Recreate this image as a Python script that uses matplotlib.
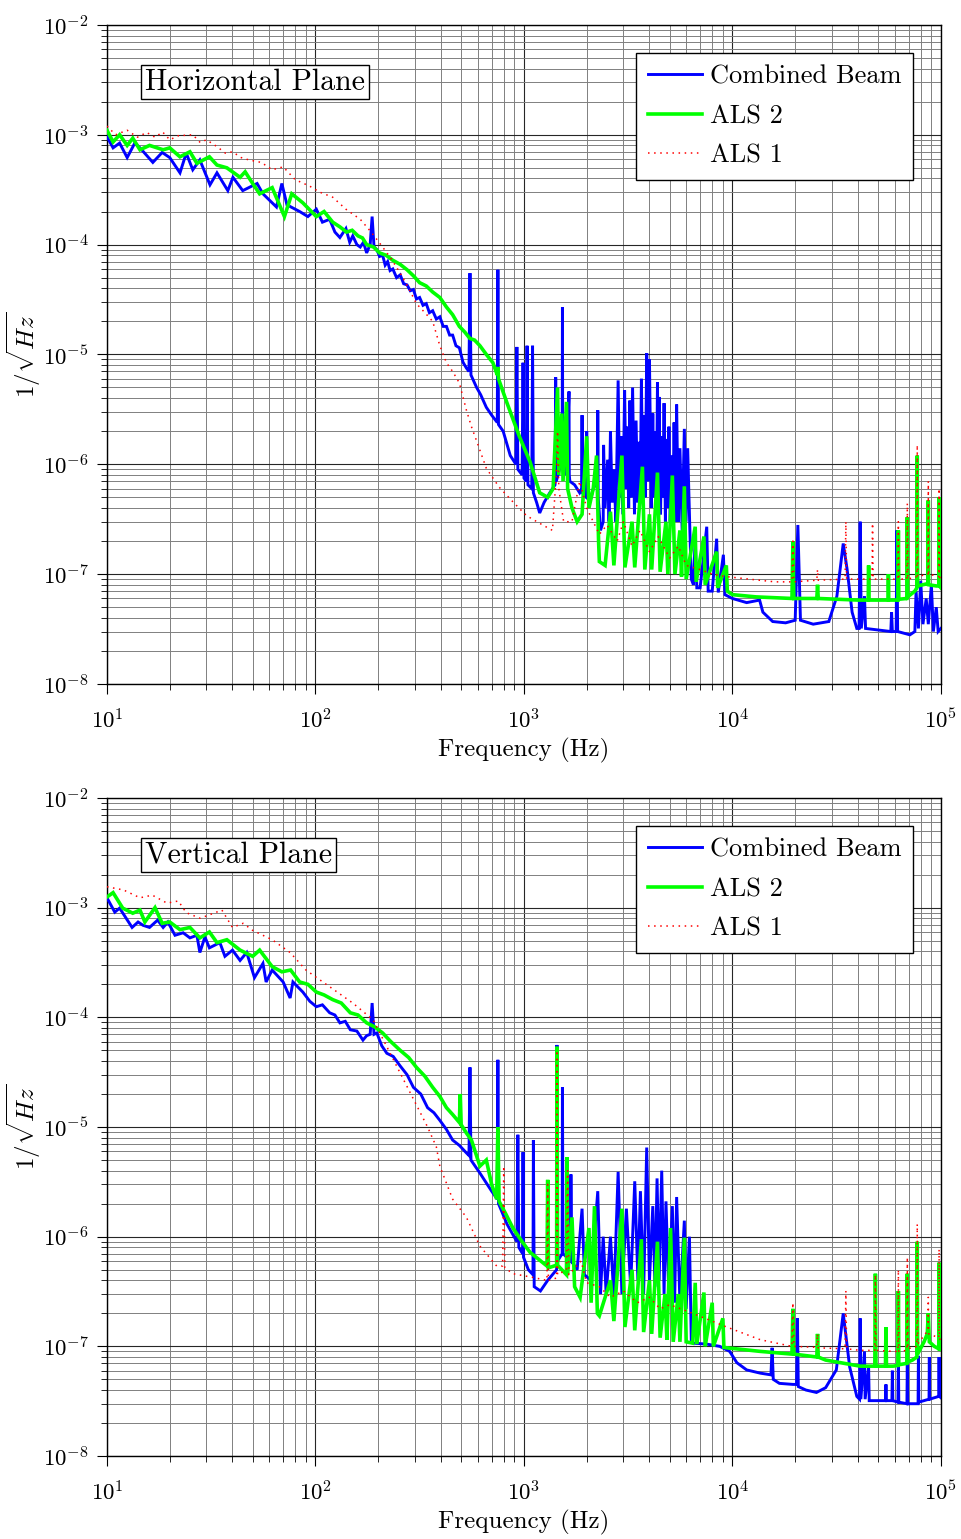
import numpy as np
import matplotlib
matplotlib.use("Agg")
import matplotlib.pyplot as plt
from matplotlib.ticker import LogLocator, NullFormatter, FixedLocator

# ---------------- data ----------------
# Horizontal plane: Combined Beam
h_blue_f = [10, 10.7, 11.5, 12.5, 13.6, 14.4, 16.6, 18.4, 20, 22.4, 24, 25.8, 27.9, 31.2, 33.7, 38, 40.2, 44.8, 52.5, 56, 65, 69, 73, 84, 92, 101, 108, 117, 124, 131, 140, 146, 151, 158, 164, 170, 176, 183, 187, 191, 197, 203, 210, 216, 222, 228, 235, 245, 255, 265, 275, 285, 295, 305, 316, 328, 340, 352, 365, 380, 395, 410, 425, 440, 455, 472, 490, 510, 530, 545, 551, 557, 593, 620, 660, 700, 745, 750, 755, 795, 860, 915, 925, 935, 980, 990, 1000, 1025, 1035, 1045, 1090, 1100, 1110, 1150, 1190, 1250, 1330, 1410, 1420, 1430, 1480, 1525, 1530, 1535, 1600, 1645, 1650, 1660, 1750, 1850, 1895, 1900, 1905, 1995, 2000, 2010, 2100, 2150, 2255, 2260, 2270, 2330, 2400, 2410, 2450, 2520, 2560, 2600, 2650, 2700, 2760, 2830, 2880, 2920, 2980, 3040, 3090, 3130, 3180, 3220, 3270, 3320, 3390, 3450, 3510, 3560, 3610, 3660, 3710, 3760, 3820, 3880, 3940, 4000, 4080, 4150, 4210, 4260, 4320, 4370, 4410, 4450, 4520, 4580, 4640, 4700, 4770, 4830, 4900, 4960, 5030, 5100, 5180, 5250, 5330, 5400, 5500, 5600, 5740, 5880, 5990, 6100, 6250, 6350, 6500, 6630, 6750, 7000, 7530, 7650, 8000, 8400, 8550, 9050, 9200, 10000, 11700, 13500, 14000, 15600, 18000, 20000, 20600, 21200, 24400, 29000, 31700, 34000, 35500, 37500, 39500, 40500, 41000, 41500, 43000, 43500, 50000, 57500, 58000, 58500, 61000, 61500, 62000, 71000, 75000, 76000, 78000, 80000, 82000, 85000, 87000, 90000, 92000, 95000, 97000, 100000]
h_blue_v = [9.6e-4, 7.6e-4, 8.4e-4, 6.2e-4, 8.4e-4, 7.6e-4, 5.6e-4, 6.9e-4, 6.2e-4, 4.5e-4, 6.8e-4, 4.8e-4, 5.9e-4, 3.5e-4, 4.5e-4, 3.1e-4, 4.1e-4, 3.1e-4, 3.6e-4, 2.9e-4, 2.2e-4, 3.6e-4, 2.3e-4, 2.0e-4, 1.8e-4, 2.1e-4, 1.6e-4, 1.7e-4, 1.3e-4, 1.16e-4, 1.4e-4, 1.05e-4, 1.2e-4, 1.0e-4, 9.5e-5, 1.05e-4, 8.4e-5, 1.0e-4, 1.8e-4, 9.5e-5, 9.0e-5, 7.8e-5, 8.0e-5, 6.5e-5, 7.0e-5, 5.8e-5, 6.0e-5, 5.0e-5, 5.3e-5, 4.4e-5, 4.3e-5, 3.8e-5, 3.9e-5, 3.2e-5, 3.3e-5, 2.8e-5, 2.9e-5, 2.4e-5, 2.5e-5, 2.1e-5, 2.2e-5, 1.8e-5, 1.8e-5, 1.5e-5, 1.5e-5, 1.2e-5, 1.15e-5, 8.5e-6, 7.5e-6, 7.0e-6, 5.5e-5, 6.5e-6, 5.0e-6, 4.3e-6, 3.3e-6, 2.8e-6, 2.4e-6, 5.9e-5, 2.3e-6, 2.0e-6, 1.2e-6, 1.0e-6, 1.17e-5, 9.0e-7, 8.0e-7, 8.4e-6, 7.5e-7, 7.0e-7, 1.2e-5, 6.5e-7, 6.0e-7, 1.2e-5, 5.5e-7, 4.5e-7, 3.6e-7, 4.5e-7, 5.5e-7, 6.5e-7, 6.2e-6, 7.0e-7, 9.0e-7, 1.0e-6, 2.7e-5, 1.0e-6, 8.0e-7, 4.6e-6, 8.0e-7, 7.0e-7, 6.5e-7, 5.5e-7, 6.0e-7, 2.8e-6, 5.5e-7, 5.0e-7, 2.0e-6, 5.0e-7, 5.0e-7, 6.0e-7, 7.0e-7, 3.1e-6, 5.0e-7, 2.5e-7, 3.0e-7, 1.5e-6, 4.0e-7, 1.1e-6, 3.0e-7, 2.0e-6, 4.5e-7, 9.0e-7, 3.0e-7, 5.8e-6, 5.0e-7, 1.8e-6, 3.5e-7, 4.7e-6, 6.0e-7, 2.2e-6, 4.0e-7, 3.8e-6, 5.0e-7, 5.0e-6, 3.5e-7, 2.5e-6, 4.5e-7, 1.6e-6, 5.0e-7, 6.0e-6, 6.0e-7, 2.8e-6, 5.0e-7, 1.03e-5, 7.0e-7, 9.0e-6, 4.0e-7, 2.9e-6, 5.0e-7, 2.0e-6, 4.0e-7, 5.6e-6, 6.0e-7, 4.1e-6, 3.5e-7, 1.8e-6, 5.0e-7, 3.6e-6, 3.0e-7, 1.7e-6, 4.0e-7, 2.2e-6, 3.0e-7, 1.2e-6, 3.5e-7, 2.4e-6, 3.0e-7, 3.5e-6, 3.0e-7, 1.4e-6, 2.5e-7, 2.1e-6, 3.0e-7, 1.4e-6, 2.5e-7, 9.0e-8, 8.0e-8, 2.1e-7, 7.5e-8, 7.5e-8, 2.7e-7, 7.0e-8, 7.0e-8, 2.1e-7, 6.8e-8, 1.5e-7, 6.5e-8, 6.0e-8, 5.5e-8, 5.8e-8, 4.5e-8, 3.7e-8, 3.6e-8, 3.8e-8, 2.8e-7, 3.8e-8, 3.5e-8, 3.7e-8, 6.3e-8, 1.9e-7, 1.1e-7, 4.5e-8, 3.2e-8, 3.2e-8, 3.0e-7, 3.2e-8, 6.3e-8, 3.2e-8, 3.1e-8, 3.0e-8, 4.5e-8, 3.0e-8, 3.0e-8, 2.5e-7, 3.0e-8, 2.8e-8, 3.0e-8, 7.0e-8, 3.2e-8, 8.7e-8, 3.5e-8, 6.0e-8, 3.5e-8, 8.0e-8, 3.0e-8, 5.0e-8, 3.0e-8, 3.2e-8]

# Horizontal plane: ALS 2
h_green_f = [10, 10.7, 11.5, 12.5, 13.3, 14.4, 16, 18.6, 20, 22.4, 25, 27, 31, 33.7, 37.6, 43.5, 46, 50, 54, 62, 71, 77, 87, 101, 110, 121, 131, 141, 150, 160, 168, 176, 190, 203, 218, 235, 255, 275, 295, 316, 340, 365, 395, 425, 455, 490, 520, 550, 580, 615, 660, 710, 745, 750, 755, 830, 950, 1070, 1190, 1300, 1380, 1450, 1470, 1520, 1540, 1600, 1620, 1700, 1800, 1900, 2000, 2050, 2150, 2230, 2280, 2300, 2450, 2600, 2700, 2950, 3050, 3300, 3400, 3700, 3800, 4000, 4100, 4370, 4500, 4800, 4900, 5150, 5300, 5600, 5700, 5880, 6000, 6630, 6700, 7300, 7400, 8400, 8500, 9350, 9450, 10000, 13000, 19300, 19500, 19700, 25400, 25600, 25800, 40000, 44800, 45000, 45200, 55800, 56000, 56200, 62200, 62500, 62800, 68700, 69000, 69300, 75000, 76700, 77000, 77300, 86700, 87000, 87300, 95000, 97700, 98000, 98300, 100000]
h_green_v = [1.1e-3, 8.6e-4, 1.0e-3, 8.0e-4, 9.3e-4, 7.3e-4, 8.0e-4, 7.3e-4, 7.6e-4, 6.3e-4, 7.0e-4, 5.5e-4, 6.3e-4, 5.3e-4, 5.0e-4, 4.1e-4, 4.6e-4, 3.6e-4, 2.9e-4, 3.3e-4, 1.8e-4, 2.9e-4, 2.4e-4, 1.8e-4, 2.0e-4, 1.6e-4, 1.45e-4, 1.3e-4, 1.35e-4, 1.2e-4, 1.15e-4, 1.0e-4, 9.5e-5, 8.4e-5, 8.0e-5, 7.2e-5, 6.6e-5, 5.9e-5, 5.2e-5, 4.5e-5, 4.2e-5, 3.7e-5, 3.3e-5, 2.7e-5, 2.3e-5, 1.8e-5, 1.6e-5, 1.4e-5, 1.35e-5, 1.2e-5, 1.0e-5, 8.4e-6, 6.5e-6, 7.7e-6, 6.0e-6, 3.6e-6, 1.8e-6, 1.05e-6, 5.5e-7, 5.0e-7, 6.0e-7, 5.0e-6, 8.0e-7, 2.9e-6, 7.0e-7, 3.7e-6, 6.0e-7, 4.0e-7, 3.0e-7, 3.5e-7, 1.8e-6, 4.0e-7, 6.0e-7, 1.2e-6, 2.0e-7, 1.3e-7, 1.2e-7, 3.7e-7, 1.2e-7, 1.2e-6, 1.15e-7, 3.0e-7, 1.15e-7, 9.5e-7, 1.1e-7, 3.5e-7, 1.1e-7, 8.4e-7, 1.05e-7, 3.0e-7, 1.0e-7, 7.9e-7, 1.0e-7, 2.5e-7, 9.5e-8, 6.3e-7, 9.0e-8, 2.7e-7, 8.5e-8, 2.2e-7, 8.0e-8, 1.6e-7, 7.5e-8, 1.2e-7, 7.0e-8, 6.5e-8, 6.2e-8, 6.0e-8, 2.0e-7, 6.0e-8, 6.0e-8, 8.0e-8, 6.0e-8, 5.8e-8, 5.8e-8, 1.2e-7, 5.8e-8, 5.8e-8, 1.0e-7, 5.8e-8, 5.8e-8, 2.5e-7, 5.9e-8, 6.0e-8, 3.3e-7, 6.2e-8, 7.0e-8, 7.5e-8, 1.2e-6, 7.8e-8, 8.2e-8, 4.7e-7, 8.0e-8, 7.8e-8, 7.8e-8, 5.0e-7, 7.8e-8, 7.5e-8]

# Horizontal plane: ALS 1
h_red_f = [10, 11, 12.5, 14, 15.5, 17, 18.5, 20, 22, 25.8, 28, 30, 33.7, 37, 40, 44, 48, 55, 62, 70, 80, 94, 105, 121, 140, 164, 185, 210, 230, 255, 280, 305, 335, 365, 395, 425, 455, 490, 530, 560, 595, 660, 760, 890, 1030, 1190, 1370, 1430, 1450, 1470, 1550, 1700, 1850, 2000, 2150, 2300, 2500, 2800, 3000, 3300, 3600, 4000, 4400, 5000, 5500, 6000, 7000, 8000, 9300, 12000, 16000, 19300, 19500, 19700, 25400, 25600, 25800, 34700, 35000, 35300, 46700, 47000, 47300, 62200, 62500, 62800, 68700, 69000, 69300, 76700, 77000, 77300, 86700, 87000, 87300, 97700, 98000, 98300, 100000]
h_red_v = [1.2e-3, 1.0e-3, 1.1e-3, 9.5e-4, 1.05e-3, 9.5e-4, 1.06e-3, 9.0e-4, 9.8e-4, 1.0e-3, 8.5e-4, 9.0e-4, 7.8e-4, 6.8e-4, 7.0e-4, 6.2e-4, 5.9e-4, 5.6e-4, 4.8e-4, 5.1e-4, 3.9e-4, 3.4e-4, 3.0e-4, 2.7e-4, 2.1e-4, 1.7e-4, 1.3e-4, 9.5e-5, 7.5e-5, 5.5e-5, 4.0e-5, 2.9e-5, 2.4e-5, 2.0e-5, 1.2e-5, 8.4e-6, 7.0e-6, 5.5e-6, 3.1e-6, 2.2e-6, 1.6e-6, 9.2e-7, 6.2e-7, 4.5e-7, 3.4e-7, 2.9e-7, 2.5e-7, 8.0e-7, 2.0e-6, 6.0e-7, 3.0e-7, 3.0e-7, 7.0e-7, 4.0e-7, 3.0e-7, 2.3e-7, 2.8e-7, 2.0e-7, 3.0e-7, 1.8e-7, 2.5e-7, 1.6e-7, 2.2e-7, 1.4e-7, 1.8e-7, 1.2e-7, 1.1e-7, 1.0e-7, 9.5e-8, 9.0e-8, 8.5e-8, 8.5e-8, 2.0e-7, 8.5e-8, 8.8e-8, 1.1e-7, 8.8e-8, 9.0e-8, 3.0e-7, 9.0e-8, 9.0e-8, 2.9e-7, 9.0e-8, 9.0e-8, 3.0e-7, 9.0e-8, 9.0e-8, 4.4e-7, 9.0e-8, 9.5e-8, 1.5e-6, 9.5e-8, 1.0e-7, 7.0e-7, 1.0e-7, 9.5e-8, 6.0e-7, 9.5e-8, 9.0e-8]

# Vertical plane: Combined Beam
v_blue_f = [10, 10.9, 11.5, 13.2, 14.1, 14.9, 16, 17.5, 18.6, 19.6, 21.2, 23.2, 25, 27, 27.9, 29.5, 31, 34.8, 36.8, 40, 43.5, 46.8, 51, 56, 58, 62, 70, 75.6, 78, 87, 94, 101, 108, 117, 124, 131, 139, 147, 158, 169, 176, 183, 187, 191, 197, 208, 220, 236, 255, 275, 295, 320, 345, 370, 395, 425, 455, 490, 530, 545, 551, 557, 615, 700, 745, 750, 755, 830, 925, 935, 945, 985, 990, 995, 1050, 1105, 1110, 1120, 1200, 1300, 1435, 1440, 1450, 1525, 1530, 1540, 1675, 1680, 1690, 1800, 1900, 1950, 2100, 2260, 2330, 2400, 2480, 2600, 2700, 2830, 2950, 3100, 3250, 3400, 3520, 3620, 3750, 3880, 4000, 4150, 4250, 4350, 4450, 4580, 4700, 4800, 4950, 5150, 5280, 5400, 5600, 5880, 6000, 6220, 6350, 6450, 7500, 8700, 9700, 10500, 11700, 13600, 15300, 15500, 15700, 16800, 19500, 20300, 20500, 20700, 22500, 25300, 28000, 31500, 34000, 36500, 39500, 40700, 41000, 41300, 43000, 43300, 45000, 45300, 54200, 54500, 54800, 58200, 58500, 58800, 62200, 62500, 62800, 68700, 69000, 69300, 74000, 77700, 78000, 78300, 87700, 88000, 88300, 97700, 98000, 98300, 100000]
v_blue_v = [1.23e-3, 9.1e-4, 9.9e-4, 6.6e-4, 7.4e-4, 6.9e-4, 6.6e-4, 7.7e-4, 6.6e-4, 7.4e-4, 5.6e-4, 5.9e-4, 5.3e-4, 5.6e-4, 3.9e-4, 5.4e-4, 4.3e-4, 4.8e-4, 3.6e-4, 4.1e-4, 3.3e-4, 3.9e-4, 2.3e-4, 3.1e-4, 2.1e-4, 2.7e-4, 2.1e-4, 1.5e-4, 2.1e-4, 1.7e-4, 1.4e-4, 1.25e-4, 1.3e-4, 1.1e-4, 1.05e-4, 8.9e-5, 9.2e-5, 7.7e-5, 7.5e-5, 6.2e-5, 6.8e-5, 7.0e-5, 1.35e-4, 7.0e-5, 7.2e-5, 5.5e-5, 4.7e-5, 4.4e-5, 3.6e-5, 3.0e-5, 2.3e-5, 2.0e-5, 1.5e-5, 1.35e-5, 1.15e-5, 9.5e-6, 7.6e-6, 6.8e-6, 5.8e-6, 5.5e-6, 3.5e-5, 5.0e-6, 3.8e-6, 2.6e-6, 2.2e-6, 4.1e-5, 2.0e-6, 1.3e-6, 9.0e-7, 8.5e-6, 8.0e-7, 7.0e-7, 5.9e-6, 6.5e-7, 5.0e-7, 4.5e-7, 7.6e-6, 3.5e-7, 3.2e-7, 4.0e-7, 5.0e-7, 5.6e-5, 6.0e-7, 7.0e-7, 2.3e-5, 7.0e-7, 6.0e-7, 3.7e-6, 6.0e-7, 5.0e-7, 1.8e-6, 4.5e-7, 4.0e-7, 2.6e-6, 3.0e-7, 1.0e-6, 3.0e-7, 1.0e-6, 2.8e-7, 3.9e-6, 3.0e-7, 1.8e-6, 3.5e-7, 3.2e-6, 4.0e-7, 2.6e-6, 3.0e-7, 6.5e-6, 4.0e-7, 1.9e-6, 3.5e-7, 3.4e-6, 4.0e-7, 4.0e-6, 3.0e-7, 2.1e-6, 3.0e-7, 1.9e-6, 2.5e-7, 2.3e-6, 2.5e-7, 1.4e-6, 2.2e-7, 1.0e-6, 1.1e-7, 1.07e-7, 1.05e-7, 1.0e-7, 9.0e-8, 7.1e-8, 6.1e-8, 5.7e-8, 5.5e-8, 9.7e-8, 5.0e-8, 4.6e-8, 4.5e-8, 4.5e-8, 1.8e-7, 4.3e-8, 4.0e-8, 3.8e-8, 4.2e-8, 6.1e-8, 2.0e-7, 6.5e-8, 3.5e-8, 3.3e-8, 1.8e-7, 3.3e-8, 9.0e-8, 3.3e-8, 6.5e-8, 3.2e-8, 3.2e-8, 4.5e-8, 3.2e-8, 3.2e-8, 6.0e-8, 3.2e-8, 3.1e-8, 8.2e-8, 3.1e-8, 3.0e-8, 7.0e-8, 3.0e-8, 3.0e-8, 3.0e-8, 8.2e-8, 3.1e-8, 3.3e-8, 8.0e-8, 3.3e-8, 3.5e-8, 8.0e-8, 3.5e-8, 3.4e-8]

# Vertical plane: ALS 2
v_green_f = [10, 10.7, 11.9, 13.3, 14.4, 15.2, 17, 18.4, 20, 22.4, 25, 27.9, 31, 33.7, 37.6, 43.5, 50, 54, 62, 69, 76, 84, 92, 101, 110, 121, 133, 147, 160, 176, 192, 210, 230, 255, 280, 305, 335, 365, 395, 425, 455, 490, 495, 500, 530, 560, 590, 615, 660, 700, 740, 750, 760, 820, 885, 980, 1070, 1180, 1290, 1300, 1310, 1435, 1440, 1450, 1600, 1610, 1620, 1700, 1750, 1860, 2050, 2100, 2180, 2250, 2300, 2600, 2700, 2950, 3050, 3300, 3400, 3660, 3750, 4000, 4100, 4370, 4500, 4750, 4850, 5050, 5200, 5500, 5600, 5880, 6000, 6450, 6630, 6750, 7300, 7400, 8000, 8100, 9000, 9100, 9400, 13600, 19300, 19500, 19700, 25400, 25600, 25800, 28000, 41000, 48200, 48500, 48800, 54200, 54500, 54800, 59000, 62200, 62500, 62800, 68700, 69000, 69300, 73000, 76700, 77000, 77300, 83000, 86000, 87000, 88000, 93000, 97700, 98000, 98300, 100000]
v_green_v = [1.25e-3, 1.37e-3, 9.9e-4, 8.9e-4, 9.5e-4, 7.4e-4, 1.0e-3, 7.2e-4, 7.4e-4, 6.3e-4, 6.6e-4, 5.3e-4, 6.0e-4, 4.8e-4, 5.1e-4, 4.1e-4, 3.6e-4, 4.1e-4, 2.9e-4, 2.6e-4, 2.7e-4, 2.1e-4, 2.0e-4, 1.7e-4, 1.6e-4, 1.45e-4, 1.35e-4, 1.1e-4, 1.05e-4, 8.9e-5, 8.2e-5, 7.2e-5, 6.0e-5, 5.0e-5, 4.3e-5, 3.5e-5, 2.9e-5, 2.3e-5, 1.9e-5, 1.5e-5, 1.3e-5, 1.1e-5, 2.0e-5, 1.05e-5, 8.8e-6, 7.6e-6, 5.6e-6, 4.4e-6, 5.0e-6, 3.0e-6, 2.2e-6, 1.0e-5, 2.1e-6, 1.6e-6, 1.2e-6, 9.0e-7, 7.2e-7, 6.2e-7, 5.4e-7, 3.3e-6, 5.2e-7, 5.5e-7, 5.4e-5, 5.5e-7, 4.5e-7, 5.3e-6, 4.5e-7, 1.5e-6, 3.5e-7, 2.8e-7, 1.2e-6, 2.5e-7, 1.9e-6, 2.0e-7, 1.9e-7, 4.0e-7, 1.7e-7, 1.8e-6, 1.5e-7, 5.0e-7, 1.4e-7, 9.5e-7, 1.35e-7, 4.0e-7, 1.3e-7, 9.0e-7, 1.2e-7, 3.0e-7, 1.15e-7, 1.2e-6, 1.1e-7, 3.0e-7, 1.1e-7, 9.8e-7, 1.1e-7, 1.07e-7, 3.8e-7, 1.05e-7, 3.1e-7, 1.0e-7, 2.5e-7, 1.0e-7, 1.8e-7, 9.8e-8, 9.7e-8, 9.0e-8, 8.5e-8, 2.2e-7, 8.5e-8, 8.0e-8, 1.3e-7, 8.0e-8, 7.5e-8, 6.6e-8, 6.6e-8, 4.6e-7, 6.6e-8, 6.6e-8, 1.5e-7, 6.6e-8, 6.6e-8, 6.7e-8, 3.2e-7, 6.8e-8, 7.0e-8, 4.6e-7, 7.2e-8, 7.5e-8, 8.0e-8, 9.0e-7, 8.5e-8, 1.1e-7, 1.3e-7, 2.0e-7, 1.1e-7, 1.0e-7, 9.5e-8, 5.8e-7, 9.5e-8, 9.5e-8]

# Vertical plane: ALS 1
v_red_f = [10, 12, 14.4, 16.5, 19.4, 22, 24, 28, 35.6, 40, 45, 50, 62, 75.6, 90, 117, 151, 189, 220, 255, 295, 345, 380, 395, 455, 530, 615, 740, 790, 800, 810, 885, 1070, 1290, 1300, 1310, 1435, 1440, 1450, 1600, 1620, 1640, 1880, 2000, 2300, 2600, 3000, 3500, 4000, 4500, 5000, 6450, 9400, 13600, 19300, 19500, 19700, 25400, 25600, 25800, 34700, 35000, 35300, 41000, 48200, 48500, 48800, 59000, 62200, 62500, 62800, 68700, 69000, 69300, 76700, 77000, 77300, 86700, 87000, 87300, 97700, 98000, 98300, 100000]
v_red_v = [1.55e-3, 1.45e-3, 1.23e-3, 1.3e-3, 1.1e-3, 1.15e-3, 9.0e-4, 8.0e-4, 9.5e-4, 6.6e-4, 7.2e-4, 6.2e-4, 5.1e-4, 3.9e-4, 2.7e-4, 1.9e-4, 1.35e-4, 9.5e-5, 5.4e-5, 3.1e-5, 1.8e-5, 1.0e-5, 6.6e-6, 4.4e-6, 2.2e-6, 1.5e-6, 8.2e-7, 5.4e-7, 5.4e-7, 4.4e-6, 5.2e-7, 4.6e-7, 4.3e-7, 4.0e-7, 3.0e-6, 4.0e-7, 4.2e-7, 5.0e-5, 4.5e-7, 5.0e-7, 4.0e-6, 4.5e-7, 6.0e-7, 3.8e-7, 3.5e-7, 2.8e-7, 3.2e-7, 2.5e-7, 2.8e-7, 2.2e-7, 2.4e-7, 2.0e-7, 1.5e-7, 1.15e-7, 1.0e-7, 2.5e-7, 1.0e-7, 9.8e-8, 1.3e-7, 9.7e-8, 9.5e-8, 3.2e-7, 9.5e-8, 9.2e-8, 9.2e-8, 4.5e-7, 9.2e-8, 9.0e-8, 9.0e-8, 5.0e-7, 9.0e-8, 9.2e-8, 6.5e-7, 9.5e-8, 1.0e-7, 1.3e-6, 1.05e-7, 1.4e-7, 2.8e-7, 1.3e-7, 1.2e-7, 7.7e-7, 1.2e-7, 1.1e-7]

panel_titles = ["Horizontal Plane", "Vertical Plane"]
series_labels = ["Combined Beam", "ALS 2", "ALS 1"]
xlabel = "Frequency (Hz)"
ylabel = r"$1/\sqrt{Hz}$"
x_major = [1e1, 1e2, 1e3, 1e4, 1e5]
y_major = [1e-8, 1e-7, 1e-6, 1e-5, 1e-4, 1e-3, 1e-2]

# ---------------- style ----------------
plt.rcParams['font.family'] = ['cmr10', 'DejaVu Serif']
plt.rcParams['mathtext.fontset'] = 'cm'
plt.rcParams['axes.formatter.use_mathtext'] = True
plt.rcParams['axes.unicode_minus'] = False

fig = plt.figure(figsize=(9.61, 15.39), dpi=100)
ax_top = fig.add_axes([0.1113, 0.5556, 0.8678, 0.4282])
ax_bot = fig.add_axes([0.1113, 0.0539, 0.8678, 0.4276])

panels = [
    (ax_top, h_blue_f, h_blue_v, h_green_f, h_green_v, h_red_f, h_red_v, panel_titles[0]),
    (ax_bot, v_blue_f, v_blue_v, v_green_f, v_green_v, v_red_f, v_red_v, panel_titles[1]),
]

for ax, bf, bv, gf, gv, rf, rv, title in panels:
    ax.set_xscale('log')
    ax.set_yscale('log')
    ax.plot(bf, bv, color='#0000ff', lw=2.1, label=series_labels[0], zorder=3,
            solid_joinstyle='miter')
    ax.plot(gf, gv, color='#00ff00', lw=2.6, label=series_labels[1], zorder=4,
            solid_joinstyle='miter')
    ax.plot(rf, rv, color='#ff0000', lw=1.1, linestyle=(0, (1, 3)), label=series_labels[2], zorder=5)
    ax.set_xlim(10, 1e5)
    ax.set_ylim(1e-8, 1e-2)
    ax.xaxis.set_major_locator(FixedLocator(x_major))
    ax.yaxis.set_major_locator(FixedLocator(y_major))
    ax.xaxis.set_minor_locator(LogLocator(base=10, subs=np.arange(2, 10), numticks=100))
    ax.yaxis.set_minor_locator(LogLocator(base=10, subs=np.arange(2, 10), numticks=100))
    ax.xaxis.set_minor_formatter(NullFormatter())
    ax.yaxis.set_minor_formatter(NullFormatter())
    ax.grid(True, which='major', color='0.15', lw=0.8, zorder=0)
    ax.grid(True, which='minor', color='0.5', lw=0.7, zorder=0)
    ax.set_axisbelow(True)
    ax.tick_params(which='major', direction='out', length=7, width=0.8, labelsize=16.5)
    ax.tick_params(which='minor', direction='out', length=4, width=0.6)
    ax.tick_params(axis='x', which='major', pad=10)
    ax.tick_params(axis='y', which='major', pad=6)
    for s in ax.spines.values():
        s.set_linewidth(1.0)
    ax.set_xlabel(xlabel, fontsize=18, labelpad=4)
    ax.set_ylabel(ylabel, fontsize=18, va='center')
    ax.yaxis.set_label_coords(-0.1, 0.5)
    ax.text(0.0456, 0.9135, title, transform=ax.transAxes, fontsize=21.5,
            ha='left', va='center', zorder=6,
            bbox=dict(boxstyle='square,pad=0.12', fc='white', ec='black', lw=1.0))
    leg = ax.legend(loc='upper right', bbox_to_anchor=(0.9664, 0.9575), borderaxespad=0,
                    fontsize=19, fancybox=False, edgecolor='black', framealpha=1,
                    handlelength=2.05, handletextpad=0.3, labelspacing=0.6,
                    borderpad=0.45)
    leg.get_frame().set_linewidth(1.0)
    leg.set_zorder(7)

fig.savefig('out.png', dpi=100)
